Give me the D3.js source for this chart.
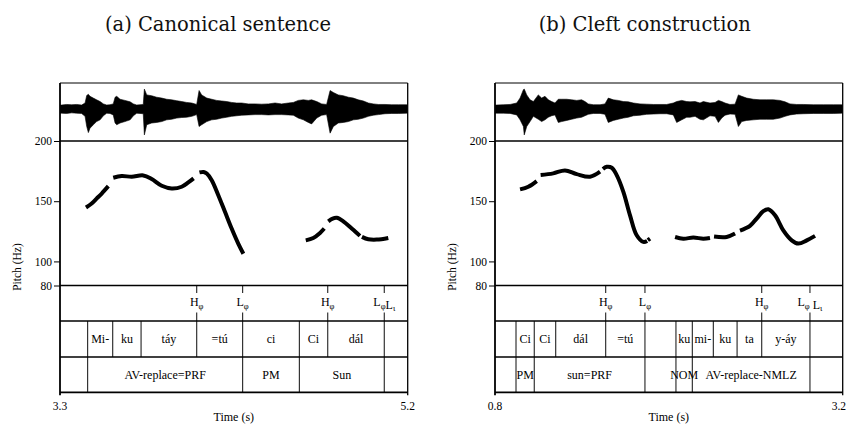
<!DOCTYPE html>
<html><head><meta charset="utf-8">
<script src="https://cdn.jsdelivr.net/npm/d3@7"></script>
<style>body{margin:0;background:#fff}svg{display:block}</style>
</head><body>
<svg id="chart" width="847" height="426"></svg>
<script>
// ---------------- DATA ----------------
const titleA = "(a) Canonical sentence";
const titleB = "(b) Cleft construction";
const timeDomainA = [3.3, 5.2];
const timeDomainB = [0.8, 3.2];
const pitchDomain = [80, 200];
const pitchTicks = [80, 100, 150, 200];
const pitchLabel = "Pitch (Hz)";
const timeLabel = "Time (s)";

// pitch contours (time s, Hz), split where the track breaks
const pitchSegmentsA = [
  [[3.442,144.8],[3.473,148.1],[3.501,152.3],[3.528,156.4],[3.564,162.5]],
  [[3.591,169.5],[3.637,170.9],[3.692,170.3],[3.755,171.4],[3.801,168.4],[3.856,162.8],[3.910,160.6],[3.965,162.0],[4.001,165.6],[4.030,169.0]],
  [[4.062,173.9],[4.085,174.3],[4.102,173.0],[4.129,167.5],[4.165,155.0],[4.202,141.0],[4.238,127.3],[4.274,114.8],[4.302,106.4]],
  [[4.643,117.5],[4.684,119.5],[4.721,123.7],[4.744,127.3]],
  [[4.766,133.3],[4.790,135.6],[4.812,136.2],[4.848,133.3],[4.894,127.3],[4.939,121.2]],
  [[4.950,120.4],[4.985,118.4],[5.031,118.1],[5.094,119.5]]
];
const pitchSegmentsB = [
  [[0.973,159.8],[1.030,162.0],[1.088,166.7]],
  [[1.115,171.7],[1.202,173.1],[1.283,175.6],[1.364,172.5],[1.456,170.3],[1.525,174.5]],
  [[1.545,176.8],[1.571,178.6],[1.606,177.8],[1.640,171.7],[1.686,157.8],[1.732,138.3],[1.778,121.7],[1.824,116.2],[1.850,117.0]],
  [[1.855,117.6],[1.870,118.9]],
  [[2.043,120.3],[2.100,118.9],[2.169,119.8],[2.238,118.9],[2.284,119.5]],
  [[2.312,120.6],[2.399,120.3],[2.457,123.1]],
  [[2.491,125.6],[2.560,129.5],[2.606,135.6],[2.652,141.7],[2.687,143.3],[2.733,138.3],[2.790,125.8],[2.848,117.5],[2.894,114.8],[2.952,117.5],[3.009,121.2]]
];

// waveform envelope (time s, upper / lower amplitude)
const waveTimeA = [3.309,3.336,3.364,3.391,3.418,3.437,3.446,3.455,3.464,3.482,3.500,3.519,3.537,3.555,3.573,3.591,3.601,3.610,3.628,3.655,3.683,3.701,3.719,3.737,3.755,3.761,3.774,3.801,3.828,3.856,3.883,3.910,3.938,3.965,3.992,4.020,4.047,4.060,4.074,4.102,4.129,4.156,4.184,4.211,4.238,4.266,4.293,4.329,4.366,4.402,4.439,4.475,4.511,4.548,4.575,4.602,4.630,4.657,4.675,4.703,4.730,4.757,4.776,4.794,4.821,4.848,4.876,4.903,4.930,4.958,4.985,5.012,5.040,5.076,5.113,5.149,5.195];
const waveTopA  = [0.14,0.16,0.15,0.16,0.14,0.21,0.47,0.51,0.44,0.38,0.32,0.26,0.18,0.14,0.15,0.18,0.41,0.44,0.34,0.30,0.25,0.18,0.14,0.15,0.16,0.69,0.49,0.46,0.41,0.38,0.34,0.32,0.29,0.26,0.23,0.21,0.16,0.64,0.49,0.38,0.34,0.30,0.28,0.26,0.23,0.21,0.21,0.18,0.18,0.17,0.18,0.21,0.18,0.21,0.23,0.30,0.32,0.30,0.32,0.26,0.18,0.16,0.64,0.57,0.49,0.46,0.41,0.38,0.32,0.28,0.21,0.18,0.16,0.16,0.15,0.15,0.15];
const waveBotA  = [-0.14,-0.15,-0.13,-0.14,-0.15,-0.25,-0.60,-0.81,-0.66,-0.54,-0.43,-0.37,-0.23,-0.14,-0.15,-0.20,-0.48,-0.54,-0.48,-0.43,-0.37,-0.23,-0.14,-0.15,-0.16,-0.89,-0.54,-0.48,-0.46,-0.43,-0.37,-0.35,-0.31,-0.29,-0.28,-0.25,-0.19,-0.60,-0.54,-0.43,-0.37,-0.35,-0.31,-0.28,-0.25,-0.23,-0.21,-0.20,-0.19,-0.19,-0.20,-0.19,-0.19,-0.20,-0.21,-0.31,-0.37,-0.46,-0.51,-0.31,-0.21,-0.19,-0.83,-0.60,-0.48,-0.46,-0.43,-0.37,-0.35,-0.31,-0.25,-0.21,-0.19,-0.16,-0.15,-0.15,-0.14];

const waveTimeB = [0.812,0.858,0.904,0.950,0.973,0.996,1.002,1.019,1.042,1.065,1.099,1.122,1.145,1.168,1.191,1.214,1.237,1.260,1.295,1.329,1.364,1.398,1.421,1.444,1.479,1.525,1.559,1.582,1.617,1.651,1.686,1.720,1.755,1.801,1.847,1.893,1.939,1.985,2.031,2.054,2.089,2.123,2.146,2.181,2.215,2.238,2.284,2.319,2.342,2.365,2.388,2.422,2.457,2.480,2.503,2.537,2.583,2.629,2.675,2.721,2.767,2.802,2.836,2.882,2.928,2.997,3.066,3.136,3.193];
const waveTopB  = [0.14,0.15,0.16,0.21,0.38,0.67,0.69,0.49,0.32,0.26,0.49,0.38,0.44,0.32,0.26,0.21,0.34,0.34,0.34,0.32,0.30,0.32,0.26,0.18,0.15,0.15,0.18,0.38,0.32,0.30,0.26,0.25,0.21,0.18,0.17,0.16,0.16,0.16,0.21,0.26,0.30,0.26,0.25,0.26,0.21,0.26,0.21,0.23,0.30,0.26,0.21,0.16,0.17,0.49,0.44,0.38,0.34,0.32,0.32,0.32,0.30,0.25,0.18,0.16,0.16,0.15,0.15,0.15,0.15];
const waveBotB  = [-0.14,-0.14,-0.15,-0.20,-0.37,-0.60,-0.89,-0.60,-0.43,-0.25,-0.35,-0.43,-0.37,-0.28,-0.23,-0.20,-0.46,-0.43,-0.39,-0.35,-0.31,-0.28,-0.23,-0.18,-0.15,-0.15,-0.18,-0.46,-0.39,-0.35,-0.31,-0.28,-0.23,-0.21,-0.18,-0.17,-0.16,-0.16,-0.20,-0.46,-0.37,-0.28,-0.28,-0.25,-0.35,-0.37,-0.23,-0.25,-0.46,-0.31,-0.21,-0.17,-0.18,-0.60,-0.43,-0.39,-0.37,-0.35,-0.35,-0.35,-0.31,-0.25,-0.20,-0.17,-0.16,-0.15,-0.15,-0.15,-0.14];

// TextGrid tiers
const toneTimesA   = [4.047, 4.298, 4.763, 5.072];
const toneLabelsA  = ["H_φ", "L_φ", "H_φ", "L_φL_ι"];
const wordBoundsA  = [3.3, 3.451, 3.588, 3.743, 4.047, 4.298, 4.608, 4.763, 5.072, 5.2];
const wordLabelsA  = ["", "Mi-", "ku", "táy", "=tú", "ci", "Ci", "dál", ""];
const glossBoundsA = [3.3, 3.451, 4.298, 4.608, 5.072, 5.2];
const glossLabelsA = ["", "AV-replace=PRF", "PM", "Sun", ""];

const toneTimesB   = [1.564, 1.835, 2.641, 2.974];
const toneLabelsB  = ["H_φ", "L_φ", "H_φ", "L_φ L_ι"];
const wordBoundsB  = [0.8, 0.945, 1.071, 1.219, 1.564, 1.835, 2.049, 2.162, 2.307, 2.471, 2.641, 2.974, 3.2];
const wordLabelsB  = ["", "Ci", "Ci", "dál", "=tú", "", "ku", "mi-", "ku", "ta", "y-áy", ""];
const glossBoundsB = [0.8, 0.945, 1.071, 1.835, 2.049, 2.162, 2.974, 3.2];
const glossLabelsB = ["", "PM", "sun=PRF", "", "NOM", "AV-replace-NMLZ", ""];

// ---------------- DRAWING ----------------
const svg = d3.select("#chart");
const serif = "'Liberation Serif','Times New Roman',serif";
const Y = {wTop: 83, pTop: 141, pBot: 285.5, t1: 321, t2: 357, t3: 392.3};
const W = +svg.attr("width");

function drawPanel(o) {
  const g = svg.append("g");
  const x = d3.scaleLinear().domain(o.domain).range([o.x0, o.x1]);
  const yP = d3.scaleLinear().domain(pitchDomain).range([Y.pBot, Y.pTop]);
  const yW = d3.scaleLinear().domain([-1.1, 0.9]).range([Y.pTop, Y.wTop]);

  // title
  g.append("text").attr("x", o.titleX).attr("y", 30.5).attr("text-anchor", "middle")
    .attr("font-family", "'DejaVu Serif',serif").attr("font-size", 19.5).attr("fill", "#111")
    .text(o.title);

  const clipId = "clip" + o.id;
  svg.append("clipPath").attr("id", clipId).append("rect")
    .attr("x", o.x0).attr("y", Y.wTop).attr("width", o.x1 - o.x0).attr("height", Y.pBot - Y.wTop);

  // waveform
  const wave = o.waveT.map((t, i) => ({t, hi: o.waveHi[i], lo: o.waveLo[i]}));
  const full = [{t: o.domain[0], hi: o.waveHi[0], lo: o.waveLo[0]}, ...wave,
                {t: o.domain[1], hi: o.waveHi[o.waveHi.length - 1], lo: o.waveLo[o.waveLo.length - 1]}];
  g.append("path").datum(full).attr("clip-path", `url(#${clipId})`)
    .attr("d", d3.area().x(d => x(d.t)).y0(d => yW(d.lo)).y1(d => yW(d.hi)).curve(d3.curveLinear))
    .attr("fill", "#000").attr("stroke", "#000").attr("stroke-width", 0.6);

  // pitch
  const line = d3.line().x(d => x(d[0])).y(d => yP(d[1])).curve(d3.curveCatmullRom);
  g.append("g").attr("clip-path", `url(#${clipId})`).selectAll("path").data(o.pitch).join("path")
    .attr("d", line).attr("fill", "none").attr("stroke", "#000").attr("stroke-width", 4)
    .attr("stroke-linecap", "butt");

  // pitch axis
  const ax = g.append("g").attr("transform", `translate(${o.x0},0)`)
    .call(d3.axisLeft(yP).tickValues(pitchTicks).tickSize(6).tickPadding(2).tickFormat(d3.format("d")));
  ax.select(".domain").remove();
  ax.selectAll("line").attr("stroke", "#000").attr("stroke-width", 1);
  ax.selectAll("text").attr("font-family", serif).attr("font-size", 11.5).attr("fill", "#000");

  g.append("text").attr("transform", `translate(${o.x0 - 39},267) rotate(-90)`)
    .attr("text-anchor", "middle").attr("font-family", serif).attr("font-size", 11.5)
    .text(pitchLabel);

  // interval tiers
  function intervalTier(bounds, labels, yTop, yBot) {
    const inner = bounds.slice(1, -1);
    g.selectAll(null).data(inner).join("line")
      .attr("x1", d => x(d)).attr("x2", d => x(d)).attr("y1", yTop).attr("y2", yBot)
      .attr("stroke", "#222").attr("stroke-width", 1.1);
    g.selectAll(null).data(labels.map((l, i) => ({l, a: bounds[i], b: bounds[i + 1]}))).join("text")
      .attr("x", d => (x(d.a) + x(d.b)) / 2).attr("y", (yTop + yBot) / 2 + 4)
      .attr("text-anchor", "middle").attr("font-family", serif).attr("font-size", 12)
      .text(d => d.l);
  }
  intervalTier(o.wordB, o.wordL, Y.t1, Y.t2);
  intervalTier(o.glossB, o.glossL, Y.t2, Y.t3);

  // point tier
  g.selectAll(null).data(o.toneT).join("line")
    .attr("x1", d => x(d)).attr("x2", d => x(d)).attr("y1", Y.pBot).attr("y2", Y.pBot + 7.5)
    .attr("stroke", "#222").attr("stroke-width", 1.1);
  g.selectAll(null).data(o.toneT).join("line")
    .attr("x1", d => x(d)).attr("x2", d => x(d)).attr("y1", Y.t1 - 8.5).attr("y2", Y.t1)
    .attr("stroke", "#222").attr("stroke-width", 1.1);
  o.toneT.forEach((t, i) => {
    const txt = g.append("text").attr("x", x(t)).attr("y", 306).attr("text-anchor", "middle")
      .attr("font-family", serif).attr("font-size", 12);
    const parts = o.toneL[i].match(/([^_\s])_(\S)|\s/g);
    parts.forEach(p => {
      if (p.trim() === "") { txt.append("tspan").text("\u00a0"); return; }
      txt.append("tspan").text(p[0]);
      txt.append("tspan").attr("font-size", 8.5).attr("dy", 2.5).text(p[2]);
      txt.append("tspan").attr("dy", -2.5).text("");
    });
  });

  // frame & horizontal lines
  [Y.wTop, Y.pTop, Y.pBot, Y.t1, Y.t2, Y.t3].forEach(yy => {
    g.append("line").attr("x1", o.x0).attr("x2", o.x1).attr("y1", yy).attr("y2", yy)
      .attr("stroke", "#000").attr("stroke-width", yy === Y.wTop ? 1 : 1.7);
  });
  [o.x0, o.x1].forEach(xx => {
    g.append("line").attr("x1", xx).attr("x2", xx).attr("y1", Y.wTop).attr("y2", Y.t3 + 3)
      .attr("stroke", "#000").attr("stroke-width", xx === o.x0 ? 1.8 : 1.3);
  });

  // time axis labels (kept inside the page)
  [o.domain[0], o.domain[1]].forEach(t => {
    const t0 = g.append("text").attr("x", x(t)).attr("y", 409.5).attr("text-anchor", "middle")
      .attr("font-family", serif).attr("font-size", 11.5).text(d3.format(".1f")(t));
    const bb = t0.node().getBBox();
    if (bb.x + bb.width > W - 1) t0.attr("text-anchor", "end").attr("x", W - 1);
  });
  g.append("text").attr("x", (o.x0 + o.x1) / 2).attr("y", 421).attr("text-anchor", "middle")
    .attr("font-family", serif).attr("font-size", 12).text(timeLabel);
}

drawPanel({id: "A", title: titleA, titleX: 218, domain: timeDomainA, x0: 60, x1: 407.7,
  pitch: pitchSegmentsA, waveT: waveTimeA, waveHi: waveTopA, waveLo: waveBotA,
  toneT: toneTimesA, toneL: toneLabelsA, wordB: wordBoundsA, wordL: wordLabelsA,
  glossB: glossBoundsA, glossL: glossLabelsA});
drawPanel({id: "B", title: titleB, titleX: 644.7, domain: timeDomainB, x0: 495, x1: 842.7,
  pitch: pitchSegmentsB, waveT: waveTimeB, waveHi: waveTopB, waveLo: waveBotB,
  toneT: toneTimesB, toneL: toneLabelsB, wordB: wordBoundsB, wordL: wordLabelsB,
  glossB: glossBoundsB, glossL: glossLabelsB});
</script>
</body></html>
